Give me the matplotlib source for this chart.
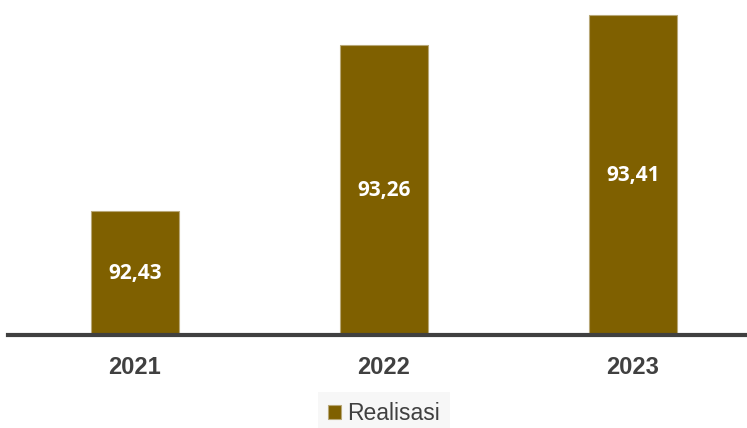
import matplotlib.pyplot as plt

years = ['2021', '2022', '2023']
values = [92.43, 93.26, 93.41]
labels = ['92,43', '93,26', '93,41']

fig = plt.figure(figsize=(7.47, 4.28), dpi=100)
ax = fig.add_axes([8 / 747, 93 / 428, 1 - 8 / 747, 335 / 428])

bars = ax.bar(range(len(years)), values, width=0.353, color='#7F6000',
              edgecolor='#B8A878', linewidth=0.8, label='Realisasi', zorder=2)

# value labels centred in each bar
ymin = 91.81
for i, (v, t) in enumerate(zip(values, labels)):
    ax.text(i, (ymin + v) / 2, t, ha='center', va='center', color='white',
            fontsize=15, fontweight='bold', family='Open Sans')

ax.set_ylim(ymin, 93.485)
ax.set_xlim(-0.51, 2.458)

for s in ['top', 'right', 'left']:
    ax.spines[s].set_visible(False)
ax.spines['bottom'].set_color('#404040')
ax.spines['bottom'].set_linewidth(3)
ax.spines['bottom'].set_zorder(3)

ax.set_yticks([])
ax.set_xticks(range(len(years)))
ax.set_xticklabels(years, fontsize=17, fontweight='bold', color='#404040',
                   family='Liberation Sans')
ax.tick_params(axis='x', length=0, pad=15)

leg = fig.legend(handles=[bars], labels=['Realisasi'], loc='center',
                 bbox_to_anchor=(384 / 747, 1 - 414 / 428), frameon=True,
                 fancybox=False, handlelength=0.55, handleheight=0.55,
                 handletextpad=0.25, borderpad=0.45, borderaxespad=0,
                 prop={'family': 'Liberation Sans', 'size': 16.5})
leg.get_frame().set_facecolor('#F5F5F5')
leg.get_frame().set_edgecolor('none')
for txt in leg.get_texts():
    txt.set_color('#404040')

fig.savefig('out.png', dpi=100)
